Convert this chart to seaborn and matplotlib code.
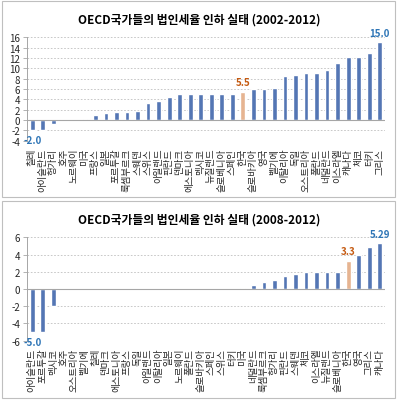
import numpy as np
import pandas as pd
import seaborn as sns
import matplotlib.pyplot as plt
from matplotlib.patches import Rectangle

sns.set_theme(style="white")
plt.rcParams['font.family'] = ['Noto Sans CJK KR', 'DejaVu Sans']

# 2002-2012 corporate tax rate cut (%p)
countries_02 = ['칠레', '아이슬란드', '헝가리', '호주', '노르웨이', '미국', '프랑스', '일본',
                '포르투갈', '룩셈부르크', '스웨덴', '스위스', '아일랜드', '핀란드', '덴마크',
                '에스토니아', '멕시코', '뉴질랜드', '슬로베니아', '스페인', '한국', '슬로바키아',
                '영국', '벨기에', '이탈리아', '독일', '오스트리아', '폴란드', '네덜란드',
                '이스라엘', '캐나다', '체코', '터키', '그리스']
cut_02 = [-2.0, -1.9, -0.8, 0, 0, 0.2, 1.0, 1.4, 1.5, 1.6, 1.7, 3.3, 3.6, 4.5, 5.0,
          5.0, 5.0, 5.0, 5.0, 5.0, 5.5, 6.0, 6.0, 6.2, 8.5, 8.8, 9.0, 9.0, 9.6,
          11.0, 12.1, 12.2, 13.0, 15.0]

# 2008-2012
countries_08 = ['아이슬란드', '포르투갈', '멕시코', '호주', '오스트리아', '벨기에', '칠레',
                '덴마크', '에스토니아', '프랑스', '독일', '아일랜드', '이탈리아', '일본',
                '노르웨이', '폴란드', '슬로바키아', '스페인', '스위스', '터키', '미국',
                '네덜란드', '룩셈부르크', '헝가리', '핀란드', '스웨덴', '체코', '이스라엘',
                '뉴질랜드', '슬로베니아', '한국', '영국', '그리스', '캐나다']
cut_08 = [-5.0, -5.0, -2.0, 0, 0, 0, 0, 0, 0, 0, 0, 0, 0, 0, 0, 0, 0, 0, 0, 0,
          0.15, 0.5, 0.8, 1.0, 1.5, 1.7, 2.0, 2.0, 2.0, 2.0, 3.3, 4.0, 4.9, 5.29]

highlight_02 = ['한국']
highlight_08 = ['미국', '한국']

# value labels: (country, text)
labels_02 = [('칠레', '-2.0'), ('한국', '5.5'), ('그리스', '15.0')]
labels_08 = [('아이슬란드', '-5.0'), ('한국', '3.3'), ('캐나다', '5.29')]

BLUE = '#4472C4'
ORANGE = '#F4B183'
W, H = 398, 402

fig = plt.figure(figsize=(W / 100, H / 100), dpi=100)


def panel(names, values, highlight, labels, title, ylim, yticks, top_px, bot_px, box):
    ax = fig.add_axes([27 / W, 1 - bot_px / H, 358 / W, (bot_px - top_px) / H])
    df = pd.DataFrame({'country': names, 'cut': values})
    colors = [ORANGE if c in highlight else BLUE for c in names]
    sns.barplot(data=df, x='country', y='cut', hue='country', palette=colors,
                order=names, legend=False, width=0.45, ax=ax)
    ax.set_ylim(*ylim)
    ax.set_xlim(-0.5, len(names) - 0.5)
    ax.set_yticks(yticks)
    ax.set_yticklabels([str(t) for t in yticks], fontsize=7, color='#262626')
    ax.set_xticks(range(len(names)))
    ax.set_xticklabels(names, rotation=90, fontsize=6.8, color='#262626')
    ax.tick_params(axis='x', length=0, pad=5)
    ax.tick_params(axis='y', length=3, width=0.6, color='#A6A6A6', pad=2, left=True)
    ax.set_xlabel('')
    ax.set_ylabel('')
    ax.yaxis.grid(True, linestyle=(0, (2, 2)), color='#BFBFBF', linewidth=0.6)
    ax.set_axisbelow(True)
    for s in ['top', 'right', 'bottom']:
        ax.spines[s].set_visible(False)
    ax.spines['left'].set_color('#A6A6A6')
    ax.spines['left'].set_linewidth(0.7)
    ax.axhline(0, color='#A6A6A6', lw=0.8)
    for name, txt in labels:
        i = names.index(name)
        v = values[i]
        col = '#C55A11' if name in highlight else '#2E75B6'
        off = 7 if v > 0 else -7
        ax.annotate(txt, (i, v), xytext=(0, off), textcoords='offset points',
                    ha='center', va='center', fontsize=7, fontweight='bold', color=col)
    fig.text(0.5, 1 - box[1] / H - 18 / H, title, ha='center', va='center',
             fontsize=8.5, fontweight='bold', color='black')
    fig.add_artist(Rectangle((box[0] / W, 1 - box[3] / H), (box[2] - box[0]) / W,
                             (box[3] - box[1]) / H, transform=fig.transFigure,
                             fill=False, edgecolor='#BFBFBF', lw=0.8))
    return ax


panel(countries_02, cut_02, highlight_02, labels_02,
      'OECD국가들의 법인세율 인하 실태 (2002-2012)',
      (-4, 16), list(range(-4, 17, 2)), 38.3, 141.7, (2, 2, 395, 198))
panel(countries_08, cut_08, highlight_08, labels_08,
      'OECD국가들의 법인세율 인하 실태 (2008-2012)',
      (-6, 6), list(range(-6, 7, 2)), 238.3, 341.7, (2, 202, 395, 399))

fig.savefig('out.png', dpi=100, facecolor='white')
